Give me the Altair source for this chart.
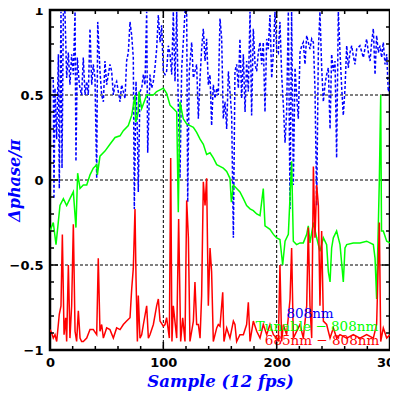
import altair as alt
import pandas as pd

# ---- series readings (x = sample, y = phase/pi) ----
blue_x = [0, 2.9, 3.5, 4.4, 5.9, 7.4, 8.2, 9.7, 10.6, 11.8, 13.2, 14.7, 16.2, 17.6, 19.1, 20.6,
          22.1, 22.9, 24.1, 25.9, 27.9, 29.4, 30.9, 32.4, 33.8, 35.3, 36.8, 38.2, 39.7, 41.2,
          42.1, 44.1, 45.6, 47.1, 48.5, 50, 52.9, 54.4, 55.9, 57.4, 58.8, 61.8, 63.2, 64.7,
          66.2, 67.6, 69.1, 70.6, 72.1, 73.5, 74.4, 75.9, 77.1, 77.9, 79.4, 80.9, 82.4, 83.8,
          85.3, 86.2, 88.2, 89.7, 91.2, 92.6, 94.1, 95.6, 97.1, 98.5, 100, 101.5, 102.9, 104.4,
          105.9, 107.4, 108.8, 110.3, 111.8, 113.2, 114.7, 116.2, 117.6, 119.1, 120.6, 121.5,
          122.9, 125, 126.5, 129.4, 130.9, 132.4, 133.8, 135.3, 136.8, 138.2, 139.7, 141.2,
          142.6, 144.1, 145.6, 147.1, 148.5, 150, 151.5, 152.9, 154.4, 155.9, 157.4, 158.8,
          160.3, 161.8, 163.2, 164.7, 166.2, 167.6, 169.1, 170.6, 172.1, 173.5, 175, 176.5,
          177.9, 179.4, 180.9, 182.4, 183.8, 185.3, 186.8, 188.2, 189.7, 191.2, 192.6, 194.1,
          195.6, 197.1, 198.5, 200, 201.5, 202.9, 204.4, 205.9, 207.4, 208.8, 210.3, 211.8,
          213.2, 214.7, 216.2, 217.6, 219.1, 220.6, 222.1, 223.5, 225, 226.5, 227.9, 229.4,
          230.9, 232.4, 233.8, 235.3, 236.8, 238.2, 239.7, 241.2, 242.6, 244.1, 245.6, 247.1,
          248.5, 250, 251.5, 252.9, 254.4, 255.9, 257.4, 258.8, 260.3, 261.8, 263.2, 264.7,
          266.2, 267.6, 269.1, 270.6, 273.5, 276.5, 279.4, 280.9, 282.4, 283.8, 285.3, 286.8,
          288.2, 289.7, 291.2, 292.6, 294.1, 295.6, 297.1, 298.5, 300]
blue_y = [0.60, 0.60, -0.11, 0.54, 0.24, 0.74, -0.05, 0.99, 0.07, 0.99, 0.99, 0.60, 0.75, 0.56,
          0.74, 0.62, 0.99, 0.11, 0.72, 0.56, 0.50, 0.72, 0.50, 0.58, 0.50, 0.89, 0.56, 0.68,
          0.60, 0.01, 0.93, 0.64, 0.50, 0.46, 0.70, 0.56, 0.68, 0.64, 0.50, 0.56, 0.58, 0.46,
          0.56, 0.52, 0.48, 0.70, 0.75, 0.93, 0.85, 0.72, -0.17, 0.58, 0.28, -0.07, 0.52, 0.54,
          0.62, 0.56, 0.99, 0.16, 0.62, 0.54, 0.58, 0.66, 0.77, 0.97, 0.81, 0.91, 0.64, 0.62,
          0.64, 0.79, 0.74, 0.62, 0.99, 0.58, 0.99, 0.44, 0.01, 0.66, 0.81, 0.99, 0.99, -0.13,
          0.64, 0.81, 0.60, 0.68, 0.36, 0.60, 0.77, 0.89, 0.70, 0.83, 0.56, 0.62, 0.32, 0.56,
          0.48, 0.54, 0.50, 0.95, 0.83, 0.36, 0.46, 0.30, 0.64, 0.52, 0.38, -0.34, 0.64, 0.68,
          0.54, 0.83, 0.48, 0.74, 0.40, 0.70, 0.52, 0.99, 0.38, 0.89, 0.68, 0.64, 0.75, 0.81,
          0.68, 0.81, 0.40, 0.83, 0.77, 0.97, 0.60, 0.75, 0.99, 0.77, 0.75, 0.93, 0.62, 0.44,
          0.22, 0.40, 0.99, -0.17, 0.99, -0.03, 0.66, 0.50, 0.36, 0.75, 0.79, 0.81, 0.68, 0.85,
          0.81, 0.77, 0.83, 0.81, 0.54, -0.15, 0.77, 0.99, 0.66, 0.46, 0.56, 0.62, 0.66, 0.30,
          0.74, 0.64, 0.70, 0.13, 0.99, 0.75, 0.54, 0.38, 0.54, 0.79, 0.66, 0.75, 0.79, 0.73,
          0.68, 0.77, 0.79, 0.72, 0.83, 0.75, 0.70, 0.81, 0.89, 0.62, 0.85, 0.75, 0.79, 0.72,
          0.81, 0.68, 0.74, 0.52, 0.56]

green_x = [0, 2.9, 5.3, 8.8, 11.8, 14.7, 17.6, 20.6, 22.9, 24.4, 26.5, 29.4, 32.4, 35.3, 38.2,
           41.2, 41.8, 44.1, 48.5, 52.9, 57.4, 61.8, 64.7, 69.1, 72.1, 75, 75.6, 77.9, 78.5,
           80.9, 85.3, 88.2, 91.2, 94.1, 97.1, 100, 102.9, 105.9, 108.8, 111.8, 113.2, 114.7,
           117.6, 120.6, 123.5, 126.5, 129.4, 132.4, 135.3, 138.2, 141.2, 144.1, 147.1, 150,
           152.9, 155.9, 158.8, 160, 161.8, 164.7, 167.6, 170.6, 173.5, 176.5, 179.4, 182.4,
           185.3, 188.2, 189.7, 194.1, 197.1, 200, 202.9, 205.3, 207.4, 210.3, 213.2, 214.7,
           217.6, 220.6, 223.5, 226.5, 227.9, 229.4, 232.4, 235.3, 238.2, 241.2, 244.1, 245.6,
           247.1, 248.5, 250, 252.9, 255.9, 258.8, 260.3, 261.8, 267.6, 273.5, 279.4, 285.3,
           286.8, 288.2, 290.6, 291.8, 292.5, 294.1, 297.1, 300]
green_y = [-0.30, -0.25, -0.38, -0.15, -0.11, -0.15, -0.11, -0.07, -0.28, 0.04, -0.05, -0.03,
           -0.03, 0.03, 0.07, 0.09, 0.03, 0.14, 0.17, 0.21, 0.25, 0.26, 0.29, 0.32, 0.38, 0.50,
           0.34, 0.40, 0.52, 0.42, 0.50, 0.50, 0.50, 0.52, 0.53, 0.54, 0.51, 0.44, 0.42, 0.40,
           -0.19, 0.46, 0.36, 0.33, 0.32, 0.31, 0.28, 0.24, 0.21, 0.15, 0.16, 0.13, 0.09, 0.08,
           0.07, 0.05, 0.01, -0.13, -0.03, -0.05, -0.07, -0.11, -0.15, -0.17, -0.18, -0.20,
           -0.21, -0.05, -0.27, -0.29, -0.32, -0.34, -0.35, -0.50, -0.36, -0.32, 0.11, -0.36,
           -0.38, -0.37, -0.37, -0.32, -0.27, -0.37, -0.25, -0.34, -0.42, -0.34, -0.38, -0.54,
           -0.60, -0.40, -0.34, -0.30, -0.38, -0.60, -0.40, -0.38, -0.37, -0.37, -0.36, -0.38,
           -0.46, -0.70, 0.0, 0.50, -0.30, -0.30, -0.36, -0.37]

red_x = [0, 1.5, 2.9, 4.4, 5.9, 8.2, 9.7, 10.9, 12.4, 13.8, 14.7, 16.2, 17.6, 19.1, 20.6, 22.1,
         23.5, 25, 26.5, 27.9, 29.4, 32.4, 35.3, 38.2, 41.2, 42.6, 44.1, 45.6, 47.1, 50, 52.9,
         55.9, 58.8, 61.8, 64.7, 67.6, 70.6, 72.1, 73.5, 75, 75.9, 77.1, 77.9, 79.4, 80.9, 82.4,
         85.3, 86.8, 88.2, 91.2, 94.1, 95.6, 97.1, 100, 101.5, 102.9, 105.3, 106.5, 107.6, 108.8,
         111.8, 113.5, 115.3, 117.1, 119.1, 120.6, 122.1, 123.5, 126.5, 127.9, 129.4, 130.9,
         132.4, 133.8, 135.3, 136.8, 138.2, 139.7, 141.2, 142.6, 144.1, 147.1, 148.5, 150,
         152.4, 153.5, 155.9, 158.8, 161.8, 163.2, 164.7, 167.6, 170.6, 173.5, 175, 176.5,
         179.4, 182.4, 185.3, 188.2, 191.2, 194.1, 197.1, 200, 201.5, 202.9, 204.4, 205.9,
         208.8, 211.8, 213.2, 214.7, 220.6, 223.5, 226.5, 227.9, 229.4, 230.9, 232.4, 233.8,
         235.3, 236.8, 238.2, 239.7, 241.2, 244.1, 247.1, 250, 252.9, 255.9, 261.8, 267.6,
         273.5, 279.4, 285.3, 288.2, 290.6, 291.8, 294.1, 297.1, 300]
red_y = [-0.88, -0.90, -0.93, -0.91, -0.95, -0.79, -0.74, -0.32, -0.91, -0.81, -0.95, -0.50,
         -0.93, -0.74, -0.26, -0.89, -0.95, -0.77, -0.93, -0.95, -0.95, -0.93, -0.88, -0.88,
         -0.91, -0.46, -0.89, -0.85, -0.93, -0.87, -0.88, -0.93, -0.87, -0.88, -0.85, -0.83,
         -0.81, -0.64, -0.52, -0.17, -0.58, -0.95, -0.68, -0.93, -0.91, -0.85, -0.74, -0.93,
         -0.91, -0.85, -0.74, -0.70, -0.83, -0.86, -0.85, -0.81, -0.93, 0.13, -0.95, -0.74,
         -0.93, -0.23, -0.95, -0.81, -0.95, -0.12, -0.34, -0.95, -0.83, -0.60, -0.85, -0.85,
         -0.93, -0.68, -0.01, -0.15, 0.01, -0.74, -0.40, -0.54, -0.95, -0.87, -0.85, -0.86,
         -0.66, -0.95, -0.87, -0.93, -0.83, -0.85, -0.95, -0.91, -0.91, -0.85, -0.72, -0.95,
         -0.83, -0.89, -0.93, -0.85, -0.91, -0.85, -0.91, -0.93, -0.95, -0.50, -0.95, -0.85,
         -0.91, -0.70, -0.40, -0.93, -0.85, -0.93, -0.74, -0.28, -0.74, -0.93, 0.08, -0.34,
         -0.03, -0.15, -0.74, -0.30, -0.83, -0.85, -0.93, -0.87, -0.93, -0.91, -0.93, -0.91,
         -0.93, -0.91, -0.93, -0.85, -0.25, -0.95, -0.87, -0.93, -0.91]

series_names = ["808nm", "Tunable \u2212 808nm", "685nm \u2212 808nm"]
series_colors = ["#0000ff", "#00ff00", "#ff0000"]

x_major = [0, 100, 200, 300]
x_minor = [20, 40, 60, 80, 120, 140, 160, 180, 220, 240, 260, 280]
y_major = [-1, -0.5, 0, 0.5, 1]
y_minor = [-0.9, -0.8, -0.7, -0.6, -0.4, -0.3, -0.2, -0.1, 0.1, 0.2, 0.3, 0.4, 0.6, 0.7, 0.8, 0.9]
x_grid = [100, 200]
y_grid = [-0.5, 0, 0.5]

W, H = 340, 340
xs = alt.Scale(domain=[0, 300], nice=False, zero=False)
ys = alt.Scale(domain=[-1, 1], nice=False, zero=False)

xaxis = alt.Axis(values=x_major, ticks=False, grid=False, domain=False, labelFont="DejaVu Sans",
                 labelFontWeight="bold", labelFontSize=13, labelColor="black", labelPadding=6,
                 title="Sample (12 fps)", titleFont="DejaVu Serif", titleFontStyle="italic",
                 titleFontWeight="bold", titleFontSize=16.5, titleColor="#0000ff",
                 titleY=36, titleBaseline="alphabetic", labelFlush=False, labelOverlap=False)
yaxis = alt.Axis(values=y_major, ticks=False, grid=False, domain=False, format="~g",
                 labelFont="DejaVu Sans", labelFontWeight="bold", labelFontSize=13,
                 labelColor="black", labelPadding=7, labelFlush=False, labelOverlap=False,
                 title="\u0394phase/\u03c0", titleFont="DejaVu Serif", titleFontStyle="italic",
                 titleFontWeight="bold", titleFontSize=16, titleColor="#0000ff",
                 titleX=-31, titleY=H / 2, titleAngle=-90, titleAlign="center",
                 titleBaseline="alphabetic")

blue_df = pd.DataFrame({"x": blue_x, "y": blue_y})
green_df = pd.DataFrame({"x": green_x, "y": green_y})
red_df = pd.DataFrame({"x": red_x, "y": red_y})


def line(df, color, dash=None):
    kw = dict(color=color, strokeWidth=1.5, clip=True, interpolate="linear")
    if dash:
        kw["strokeDash"] = dash
    return alt.Chart(df).mark_line(**kw).encode(
        x=alt.X("x:Q", scale=xs, axis=xaxis),
        y=alt.Y("y:Q", scale=ys, axis=yaxis),
    )


gx = alt.Chart(pd.DataFrame({"v": x_grid})).mark_rule(color="black", strokeWidth=1, strokeDash=[3, 2]).encode(
    x=alt.X("v:Q", scale=xs, axis=xaxis), y=alt.value(0), y2=alt.value(H))
gy = alt.Chart(pd.DataFrame({"v": y_grid})).mark_rule(color="black", strokeWidth=1, strokeDash=[3, 2]).encode(
    y=alt.Y("v:Q", scale=ys, axis=yaxis), x=alt.value(0), x2=alt.value(W))


def xticks(vals, length):
    d = pd.DataFrame({"v": vals})
    top = alt.Chart(d).mark_rule(color="black", strokeWidth=1.5).encode(
        x=alt.X("v:Q", scale=xs, axis=xaxis), y=alt.value(0), y2=alt.value(length))
    bot = alt.Chart(d).mark_rule(color="black", strokeWidth=1.5).encode(
        x=alt.X("v:Q", scale=xs, axis=xaxis), y=alt.value(H), y2=alt.value(H - length))
    return [top, bot]


def yticks(vals, length):
    d = pd.DataFrame({"v": vals})
    left = alt.Chart(d).mark_rule(color="black", strokeWidth=1.5).encode(
        y=alt.Y("v:Q", scale=ys, axis=yaxis), x=alt.value(0), x2=alt.value(length))
    right = alt.Chart(d).mark_rule(color="black", strokeWidth=1.5).encode(
        y=alt.Y("v:Q", scale=ys, axis=yaxis), x=alt.value(W), x2=alt.value(W - length))
    return [left, right]


legend_pos = [(260, 308), (267, 321), (272, 335)]
labels = []
for name, col, (px, py) in zip(series_names, series_colors, legend_pos):
    labels.append(
        alt.Chart(pd.DataFrame({"t": [name]})).mark_text(
            font="DejaVu Serif", fontSize=13.5, color=col, align="center", baseline="alphabetic"
        ).encode(text="t:N", x=alt.value(px), y=alt.value(py))
    )

layers = [gx, gy,
          line(blue_df, series_colors[0], [3, 2]),
          line(green_df, series_colors[1]),
          line(red_df, series_colors[2])]
layers += labels
layers += xticks(x_major, 8) + xticks(x_minor, 4) + yticks(y_major, 8) + yticks(y_minor, 4)

chart = alt.layer(*layers).properties(
    width=W, height=H,
    autosize=alt.AutoSizeParams(type="none"),
    padding={"left": 42, "top": 2, "right": 0, "bottom": 41},
    background="white",
).configure_view(stroke="black", strokeWidth=2.5)

chart.save("out.html", embed_options={"renderer": "svg", "actions": False})
